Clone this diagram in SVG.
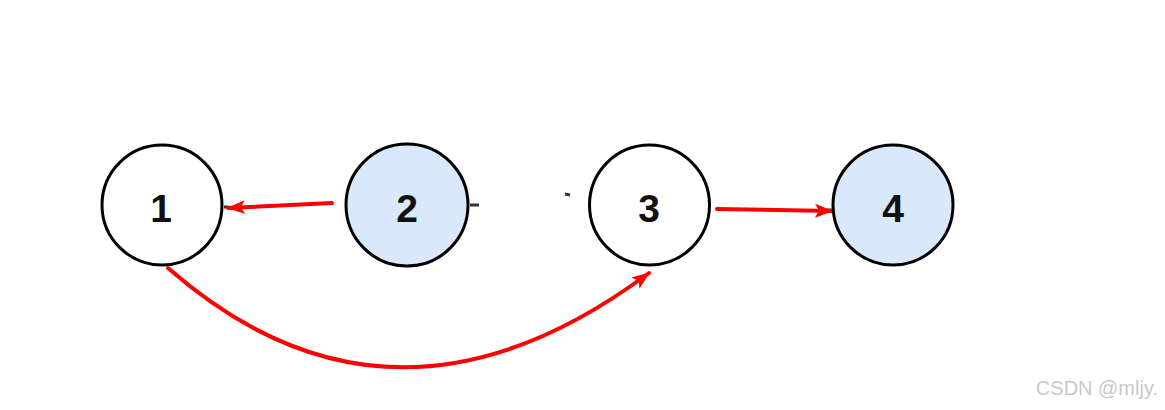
<svg xmlns="http://www.w3.org/2000/svg" width="1165" height="410" viewBox="0 0 1165 410">
<style>
.node{stroke:#000;stroke-width:3}
.white{fill:#fff}
.blue{fill:#dae8fc}
.lbl{font-family:"Liberation Sans",Arial,sans-serif;font-weight:bold;font-size:39px;fill:#111;text-anchor:middle}
.edge{fill:none;stroke:#ff0000;stroke-width:4;stroke-linecap:round}
.stub{stroke:#333;stroke-width:3}
.wm{font-family:"Liberation Sans",Arial,sans-serif;font-size:20px;fill:#c8c8c8;text-anchor:end}
</style>
<defs>
<marker id="arr" viewBox="0 0 18 14" refX="17" refY="7" markerWidth="18" markerHeight="14" markerUnits="userSpaceOnUse" orient="auto">
<path d="M0,0 L18,7 L0,14 L4,7 Z" fill="#ff0000"/>
</marker>
</defs>
<rect width="1165" height="410" fill="#fff"/>
<g id="connectors">
<line class="stub" x1="470" y1="205" x2="479" y2="205"/>
<line class="stub" x1="224" y1="207" x2="229" y2="207"/>
<line class="stub" x1="826" y1="210" x2="832" y2="210"/>
<line class="stub" x1="565" y1="194" x2="570" y2="195" stroke-width="1.5"/>
<path id="e21" class="edge" d="M332,203 L228,208" marker-end="url(#arr)"/>
<path id="e34" class="edge" d="M717,209 L832,211" marker-end="url(#arr)"/>
<path id="e13" class="edge" d="M168,268 Q392,464 649,273" marker-end="url(#arr)"/>
</g>
<g id="node1"><circle class="node white" cx="162" cy="205" r="60"/><text class="lbl" x="161" y="222">1</text></g>
<g id="node2"><circle class="node blue" cx="407" cy="205" r="61"/><text class="lbl" x="407" y="222">2</text></g>
<g id="node3"><circle class="node white" cx="649.5" cy="205" r="60"/><text class="lbl" x="649" y="222">3</text></g>
<g id="node4"><circle class="node blue" cx="893" cy="205" r="60"/><text class="lbl" x="893" y="222">4</text></g>
<text class="wm" x="1158" y="395">CSDN @mljy.</text>
</svg>
